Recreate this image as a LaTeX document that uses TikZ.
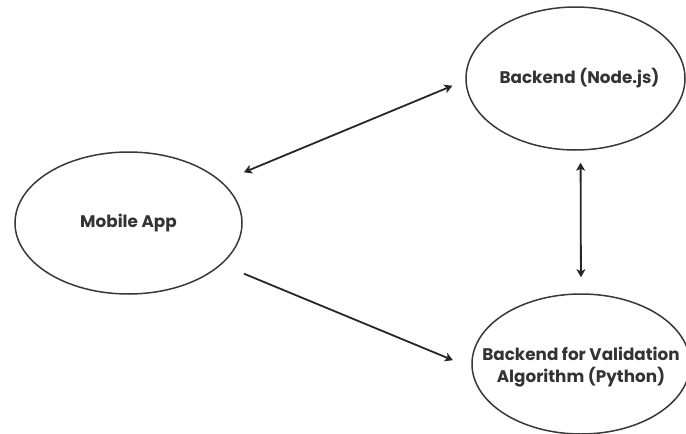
\documentclass[tikz,border=0pt]{standalone}
\usepackage{fontspec}
\setmainfont{Poppins}
\usetikzlibrary{shapes.geometric,arrows.meta}
\begin{document}
\begin{tikzpicture}[x=1pt,y=-1pt,
  blob/.style={ellipse, draw=black!78, line width=1.5pt, inner sep=0pt},
  lbl/.style={font=\bfseries\fontsize{16.8}{21.5}\selectfont, text=black!80, align=center, inner sep=0pt},
  link/.style={draw=black!85, line width=1.8pt},
  tipA/.style={arrows={-Stealth[length=8pt,width=9pt,inset=2pt]}},
  tipB/.style={arrows={Stealth[length=8pt,width=9pt,inset=2pt]-Stealth[length=8pt,width=9pt,inset=2pt]}}]
\useasboundingbox (0,0) rectangle (686,434);
\node[blob, minimum width=227pt, minimum height=142pt, label={[lbl]center:Mobile App}] (m) at (128.5,223) {};
\node[blob, minimum width=219pt, minimum height=143pt, label={[lbl, xshift=4pt]center:Backend (Node.js)}] (b) at (575.5,78.5) {};
\node[blob, minimum width=218pt, minimum height=140pt, label={[lbl, yshift=-3pt]center:Backend for Validation\\Algorithm (Python)}] (v) at (581,364) {};
\draw[link, tipB, shorten <=24pt, shorten >=14pt] (m.24) -- (b.181);
\draw[link, tipA, shorten <=24pt, shorten >=20pt] (m.-24) -- (v.182);
\draw[link, tipB, shorten <=12pt, shorten >=16pt] (b.-86) -- (v.90);
\end{tikzpicture}
\end{document}
